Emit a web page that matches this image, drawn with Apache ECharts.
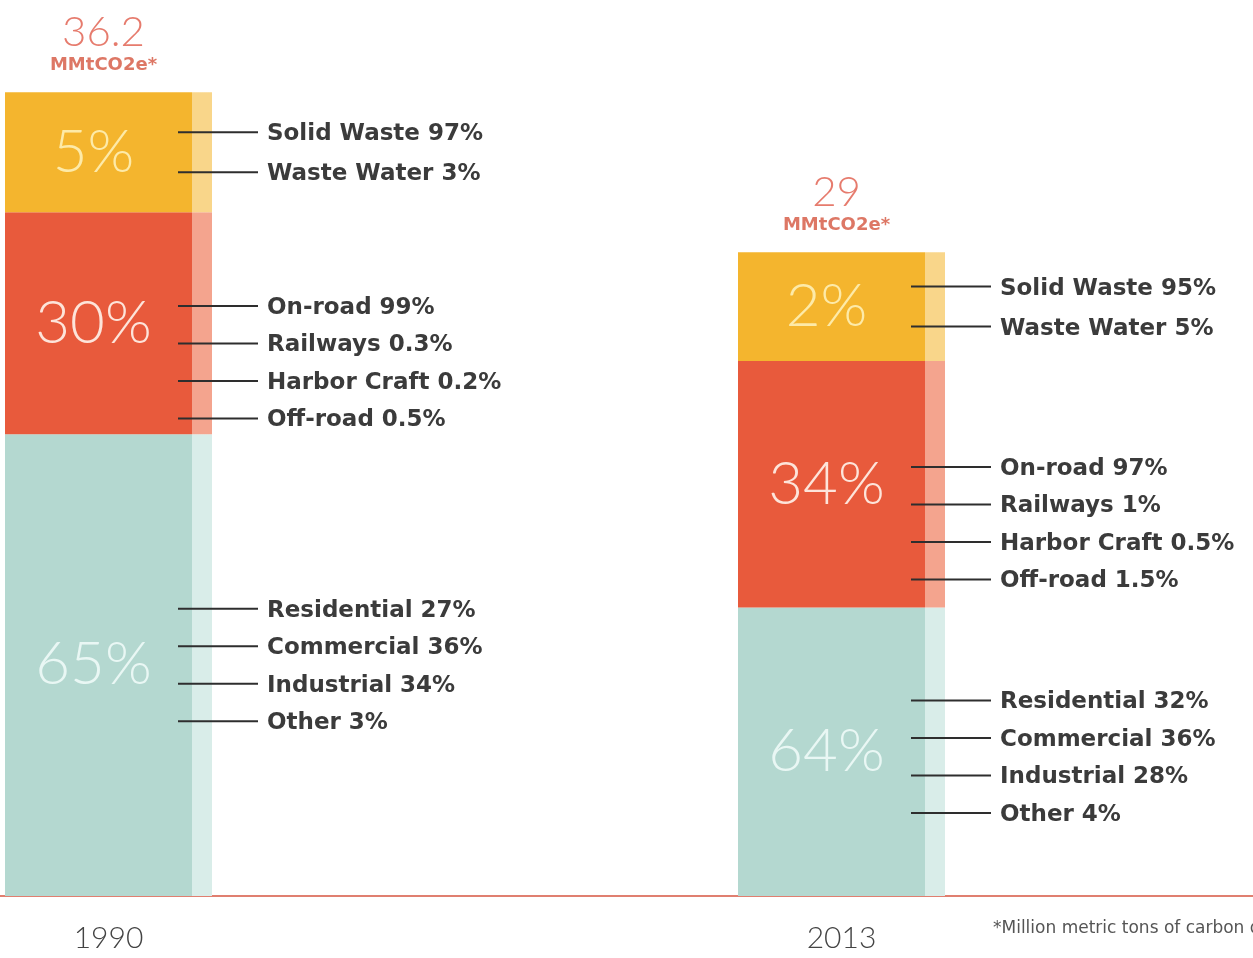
<!DOCTYPE html>
<html>
<head>
<meta charset="utf-8">
<script src="https://cdn.jsdelivr.net/npm/echarts@6/dist/echarts.min.js"></script>
<style>
html, body { margin: 0; padding: 0; background: #ffffff; }
#chart { width: 1253px; height: 958px; }
</style>
</head>
<body>
<div id="chart"></div>
<script>
// ---- data ----
const years = ['1990', '2013'];
const totals = [36.2, 29];
const totalUnit = 'MMtCO2e*';
// segment heights as drawn (MMtCO2e scale), bottom to top
const energyValues = [20.8, 13.0];
const transportValues = [10.0, 11.1];
const wasteValues = [5.4, 4.9];
// printed share labels
const energyPct = ['65%', '64%'];
const transportPct = ['30%', '34%'];
const wastePct = ['5%', '2%'];
// breakdown callouts
const wasteBreakdown1990 = ['Solid Waste 97%', 'Waste Water 3%'];
const wasteBreakdown2013 = ['Solid Waste 95%', 'Waste Water 5%'];
const transportBreakdown1990 = ['On-road 99%', 'Railways 0.3%', 'Harbor Craft 0.2%', 'Off-road 0.5%'];
const transportBreakdown2013 = ['On-road 97%', 'Railways 1%', 'Harbor Craft 0.5%', 'Off-road 1.5%'];
const energyBreakdown1990 = ['Residential 27%', 'Commercial 36%', 'Industrial 34%', 'Other 3%'];
const energyBreakdown2013 = ['Residential 32%', 'Commercial 36%', 'Industrial 28%', 'Other 4%'];
const footnote = '*Million metric tons of carbon dioxide equivalent';

// ---- styling ----
const BAR_W = 207;
const MAIN_FRAC = 0.905;
function strip(main, light) {
  return {
    type: 'linear', x: 0, y: 0, x2: 1, y2: 0,
    colorStops: [
      { offset: 0, color: main }, { offset: MAIN_FRAC, color: main },
      { offset: MAIN_FRAC, color: light }, { offset: 1, color: light }
    ]
  };
}
const thinFont = 'Lato, "Open Sans", sans-serif';

const segments = [
  { name: 'Stationary Energy', values: energyValues, pct: energyPct, subs: [energyBreakdown1990, energyBreakdown2013],
    color: strip('#b4d8d0', '#d9ede9'), labelColor: '#e9f7f4', calloutShift: [0, 5] },
  { name: 'Transportation', values: transportValues, pct: transportPct, subs: [transportBreakdown1990, transportBreakdown2013],
    color: strip('#e85a3c', '#f4a48e'), labelColor: '#fde4da', calloutShift: [39, 39] },
  { name: 'Waste', values: wasteValues, pct: wastePct, subs: [wasteBreakdown1990, wasteBreakdown2013],
    color: strip('#f4b52e', '#f9d68a'), labelColor: '#fdeaa8', calloutShift: [0, 0] }
];

// callout data built from the segment values
const calloutData = [];
const calloutTexts = [];
years.forEach(function (y, i) {
  let base = 0;
  segments.forEach(function (seg) {
    const lo = base, hi = base + seg.values[i];
    const list = seg.subs[i];
    list.forEach(function (t, k) {
      calloutData.push([i, lo, hi, k, list.length, seg.calloutShift[i]]);
      calloutTexts.push(t);
    });
    base = hi;
  });
});

const barSeries = segments.map(function (seg) {
  return {
    name: seg.name,
    type: 'bar',
    stack: 'total',
    barWidth: BAR_W,
    xAxisIndex: 0,
    yAxisIndex: 0,
    z: 2,
    data: seg.values,
    itemStyle: { color: seg.color },
    label: {
      show: true,
      position: 'inside',
      offset: [-15, 0],
      formatter: function (p) { return seg.pct[p.dataIndex]; },
      fontFamily: thinFont,
      fontWeight: 300,
      fontSize: 60,
      color: seg.labelColor
    },
    emphasis: { disabled: true }
  };
});

const chart = echarts.init(document.getElementById('chart'));
chart.setOption({
  backgroundColor: '#ffffff',
  animation: false,
  title: {
    text: footnote,
    left: 988,
    top: 915,
    textStyle: { fontFamily: '"DejaVu Sans", sans-serif', fontSize: 17, fontWeight: 'normal', color: '#555' }
  },
  grid: [
    { left: 108.5, right: 411.5, top: 8, bottom: 62 },
    { left: 0, right: 0, top: 8, bottom: 62 }
  ],
  xAxis: [
    {
      type: 'category',
      gridIndex: 0,
      data: years,
      boundaryGap: false,
      axisLine: { show: false },
      axisTick: { show: false },
      splitLine: { show: false },
      axisLabel: { margin: 27, fontFamily: thinFont, fontWeight: 300, fontSize: 30, color: '#444' }
    },
    {
      type: 'value',
      gridIndex: 1,
      min: 0,
      max: 1,
      axisLine: { show: true, lineStyle: { color: '#e07f70', width: 2 } },
      axisTick: { show: false },
      axisLabel: { show: false },
      splitLine: { show: false }
    }
  ],
  yAxis: [
    { type: 'value', gridIndex: 0, min: 0, max: 40, show: false, splitLine: { show: false } },
    { type: 'value', gridIndex: 1, min: 0, max: 40, show: false, splitLine: { show: false } }
  ],
  series: barSeries.concat([
    {
      name: 'Total',
      type: 'scatter',
      xAxisIndex: 0,
      yAxisIndex: 0,
      data: totals.map(function (t, i) { return [i, t]; }),
      symbolSize: 0,
      label: {
        show: true,
        position: 'top',
        distance: 16,
        offset: [-5, 0],
        formatter: function (p) { return '{v|' + totals[p.dataIndex] + '}\n{u|' + totalUnit + '}'; },
        rich: {
          v: { fontFamily: thinFont, fontWeight: 300, fontSize: 42, lineHeight: 44, color: '#e05a48', align: 'center' },
          u: { fontFamily: '"DejaVu Sans", sans-serif', fontWeight: 'bold', fontSize: 18, lineHeight: 22, color: '#d4553f', align: 'center' }
        }
      },
      emphasis: { disabled: true }
    },
    {
      name: 'Breakdown',
      type: 'custom',
      xAxisIndex: 0,
      yAxisIndex: 0,
      z: 10,
      clip: false,
      encode: { x: 0, y: [1, 2] },
      data: calloutData,
      renderItem: function (params, api) {
        const cat = api.value(0);
        const pLo = api.coord([cat, api.value(1)]);
        const pHi = api.coord([cat, api.value(2)]);
        const slot = api.value(3), n = api.value(4), shift = api.value(5);
        const spacing = n > 2 ? 37.5 : 40;
        const yc = (pLo[1] + pHi[1]) / 2 + shift + (slot - (n - 1) / 2) * spacing;
        const x0 = pLo[0] + BAR_W / 2 - 34;
        const x1 = x0 + 80;
        return {
          type: 'group',
          children: [
            { type: 'line', z2: 10, shape: { x1: x0, y1: yc, x2: x1, y2: yc }, style: { stroke: '#2e2e2e', lineWidth: 2 } },
            { type: 'text', z2: 10, x: x1 + 9, y: yc + 2,
              style: { text: calloutTexts[params.dataIndex], fill: '#3b3b3b',
                font: 'bold 23px "DejaVu Sans", sans-serif', verticalAlign: 'middle', align: 'left' } }
          ]
        };
      }
    }
  ])
});
</script>
</body>
</html>
